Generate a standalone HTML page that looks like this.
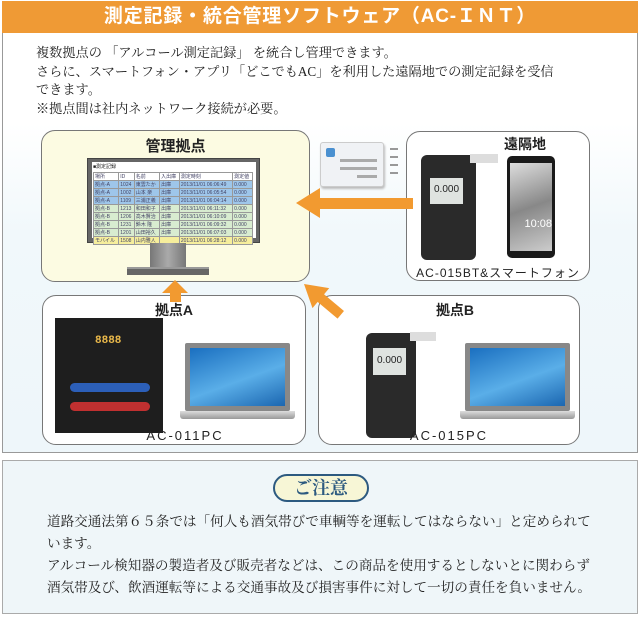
<!DOCTYPE html>
<html><head><meta charset="utf-8">
<style>
*{margin:0;padding:0;box-sizing:border-box}
body{width:640px;height:618px;background:#fff;position:relative;overflow:hidden;font-family:"Liberation Serif","Noto Serif CJK SC",serif;color:#222}
.abs{position:absolute}
.hdr{left:2px;top:1px;width:636px;height:32px;background:#ef9a35;color:#fff;font-family:"Liberation Sans","Noto Sans CJK JP",sans-serif;font-weight:bold;font-size:19px;text-align:center;line-height:32px;letter-spacing:0.8px}
.main{left:2px;top:33px;width:636px;height:420px;border:1px solid #999;border-top:none;background:linear-gradient(#fff 0,#fff 90px,#f1f8fb 200px,#eef6fa 100%)}
.t{font-size:13.2px;line-height:18.5px;left:36px;top:44px}
.box{border:1px solid #777;border-radius:14px}
.lbl{font-family:"Liberation Sans","Noto Sans CJK JP",sans-serif;font-weight:bold;font-size:14px;text-align:center}
.cap{font-family:"Liberation Sans","Noto Sans CJK JP",sans-serif;font-size:13px;letter-spacing:2px;text-align:center}
.note{left:2px;top:460px;width:636px;height:154px;border:1px solid #aaa;background:#eff6f9}
.nt{font-size:13.6px;line-height:22px;left:47px;top:511px}
table{border-collapse:collapse;font-size:5px;font-family:"Liberation Sans","Noto Sans CJK JP",sans-serif;width:160px}
td{border:1px solid #999;height:8px;padding:0 1px;color:#446}
</style></head><body>
<div class="abs hdr">測定記録・統合管理ソフトウェア（AC-ＩＮＴ）</div>
<div class="abs main"></div>
<div class="abs t">複数拠点の 「アルコール測定記録」 を統合し管理できます。<br>さらに、スマートフォン・アプリ「どこでもAC」を利用した遠隔地での測定記録を受信<br>できます。<br>※拠点間は社内ネットワーク接続が必要。</div>

<div class="abs box" style="left:41px;top:130px;width:269px;height:152px;background:#fcfbe2"></div>
<div class="abs lbl" style="left:41px;top:135px;width:269px;font-size:15px">管理拠点</div>
<div class="abs" style="left:87px;top:158px;width:173px;height:85px;background:#666;border:1px solid #444"></div>
<div class="abs" style="left:92px;top:162px;width:164px;height:76px;background:#fff;padding:1px">
<div style="font-size:5px;font-family:'Liberation Sans','Noto Sans CJK JP',sans-serif;height:9px">■測定記録</div>
<table>
<tr style="background:#fff"><td>場所</td><td>ID</td><td>名前</td><td>入出庫</td><td>測定時刻</td><td>測定値</td></tr>
<tr style="background:#9ec6ea"><td>拠点-A</td><td>1024</td><td>東雲たか</td><td>出庫</td><td>2013/11/01 06:06:49</td><td>0.000</td></tr>
<tr style="background:#9ec6ea"><td>拠点-A</td><td>1002</td><td>山本 楽</td><td>出庫</td><td>2013/11/01 06:05:54</td><td>0.000</td></tr>
<tr style="background:#9ec6ea"><td>拠点-A</td><td>1109</td><td>三浦正義</td><td>出庫</td><td>2013/11/01 06:04:14</td><td>0.000</td></tr>
<tr style="background:#d8ecd0"><td>拠点-B</td><td>1213</td><td>和田和子</td><td>出庫</td><td>2013/11/01 06:11:32</td><td>0.000</td></tr>
<tr style="background:#d8ecd0"><td>拠点-B</td><td>1206</td><td>高木賢治</td><td>出庫</td><td>2013/11/01 06:10:09</td><td>0.000</td></tr>
<tr style="background:#d8ecd0"><td>拠点-B</td><td>1231</td><td>鈴木 隆</td><td>出庫</td><td>2013/11/01 06:09:32</td><td>0.000</td></tr>
<tr style="background:#d8ecd0"><td>拠点-B</td><td>1201</td><td>山田裕久</td><td>出庫</td><td>2013/11/01 06:07:03</td><td>0.000</td></tr>
<tr style="background:#f6ee9c"><td>モバイル</td><td>1508</td><td>山内雅人</td><td></td><td>2013/11/01 06:28:12</td><td>0.000</td></tr>
</table></div>
<div class="abs" style="left:150px;top:243px;width:36px;height:25px;background:linear-gradient(90deg,#777,#aaa,#777)"></div>
<div class="abs" style="left:127px;top:267px;width:82px;height:8px;background:#666;border-top:2px solid #999"></div>

<div class="abs" style="left:320px;top:142px;width:64px;height:45px;background:#f0f2f5;border:1px solid #ccc;border-radius:3px;box-shadow:1px 2px 2px #bbb"></div>
<div class="abs" style="left:326px;top:148px;width:9px;height:9px;background:#4a90d0;border-radius:2px"></div>
<div class="abs" style="left:340px;top:159px;width:37px;height:3px;background:#aaa"></div>
<div class="abs" style="left:340px;top:167px;width:37px;height:3px;background:#aaa"></div>
<div class="abs" style="left:357px;top:175px;width:20px;height:3px;background:#aaa"></div>
<div class="abs" style="left:390px;top:148px;width:8px;height:30px;background:repeating-linear-gradient(#999 0 2px,transparent 2px 8px)"></div>

<div class="abs box" style="left:406px;top:131px;width:184px;height:150px;background:#fff"></div>
<div class="abs lbl" style="left:490px;top:134px;width:70px">遠隔地</div>
<div class="abs" style="left:421px;top:155px;width:55px;height:105px;background:#2a2a2a;border-radius:6px"></div>
<div class="abs" style="left:470px;top:154px;width:28px;height:9px;background:#ddd"></div>
<div class="abs" style="left:430px;top:178px;width:33px;height:26px;background:#dfe3e0;font:10px 'Liberation Sans',sans-serif;text-align:center;line-height:24px">0.000</div>
<div class="abs" style="left:507px;top:156px;width:48px;height:102px;background:#1a1a1a;border-radius:5px"></div>
<div class="abs" style="left:510px;top:163px;width:42px;height:88px;background:linear-gradient(160deg,#ddd,#888 50%,#ccc);color:#fff;font:11px 'Liberation Sans',sans-serif;text-align:right;padding-top:55px">10:08</div>
<div class="abs cap" style="left:406px;top:264px;width:184px;font-size:12px;letter-spacing:1px">AC-015BT&amp;スマートフォン</div>

<div class="abs box" style="left:42px;top:295px;width:264px;height:150px;background:#fff"></div>
<div class="abs lbl" style="left:42px;top:300px;width:264px">拠点A</div>
<div class="abs" style="left:55px;top:318px;width:108px;height:115px;background:#1e1e1e"></div>
<div class="abs" style="left:95px;top:335px;width:30px;height:12px;color:#e9b84a;font:bold 11px 'Liberation Mono',monospace">8888</div>
<div class="abs" style="left:70px;top:383px;width:80px;height:9px;background:#2c5fb8;border-radius:5px"></div>
<div class="abs" style="left:70px;top:402px;width:80px;height:9px;background:#c03030;border-radius:5px"></div>
<div class="abs" style="left:185px;top:343px;width:105px;height:68px;background:#888;border-radius:2px"></div>
<div class="abs" style="left:190px;top:348px;width:95px;height:58px;background:linear-gradient(160deg,#1a6fc0,#5aaee8 55%,#1b66b0)"></div>
<div class="abs" style="left:180px;top:411px;width:115px;height:8px;background:linear-gradient(#ddd,#999);border-radius:0 0 3px 3px"></div>
<div class="abs cap" style="left:42px;top:428px;width:286px">AC-011PC</div>

<div class="abs box" style="left:318px;top:295px;width:262px;height:150px;background:#fff"></div>
<div class="abs lbl" style="left:420px;top:300px;width:70px">拠点B</div>
<div class="abs" style="left:366px;top:333px;width:50px;height:105px;background:#2a2a2a;border-radius:6px"></div>
<div class="abs" style="left:410px;top:332px;width:26px;height:9px;background:#ddd"></div>
<div class="abs" style="left:373px;top:348px;width:33px;height:27px;background:#dfe3e0;font:10px 'Liberation Sans',sans-serif;text-align:center;line-height:25px">0.000</div>
<div class="abs" style="left:465px;top:343px;width:105px;height:68px;background:#888;border-radius:2px"></div>
<div class="abs" style="left:470px;top:348px;width:95px;height:58px;background:linear-gradient(160deg,#1a6fc0,#5aaee8 55%,#1b66b0)"></div>
<div class="abs" style="left:460px;top:411px;width:115px;height:8px;background:linear-gradient(#ddd,#999);border-radius:0 0 3px 3px"></div>
<div class="abs cap" style="left:318px;top:428px;width:262px">AC-015PC</div>

<svg class="abs" style="left:0;top:0" width="640" height="618">
<g fill="#f29a30">
<rect x="318" y="198" width="95" height="11"/>
<polygon points="296,203 320,188 320,218"/>
<rect x="170" y="290" width="11" height="12"/>
<polygon points="175,280 162,293 188,293"/>
<g transform="translate(304,284) rotate(40)">
<polygon points="0,0 22,-13 22,13"/>
<rect x="20" y="-5" width="28" height="10"/>
</g>
</g></svg>

<div class="abs note"></div>
<div class="abs" style="left:273px;top:474px;width:96px;height:28px;border:2px solid #2d5a80;border-radius:14px;background:#f7f6d6;color:#2d5a80;font-size:18px;font-weight:bold;text-align:center;line-height:24px">ご注意</div>
<div class="abs nt">道路交通法第６５条では「何人も酒気帯びで車輌等を運転してはならない」と定められて<br>います。<br>アルコール検知器の製造者及び販売者などは、この商品を使用するとしないとに関わらず<br>酒気帯及び、飲酒運転等による交通事故及び損害事件に対して一切の責任を負いません。</div>
</body></html>
